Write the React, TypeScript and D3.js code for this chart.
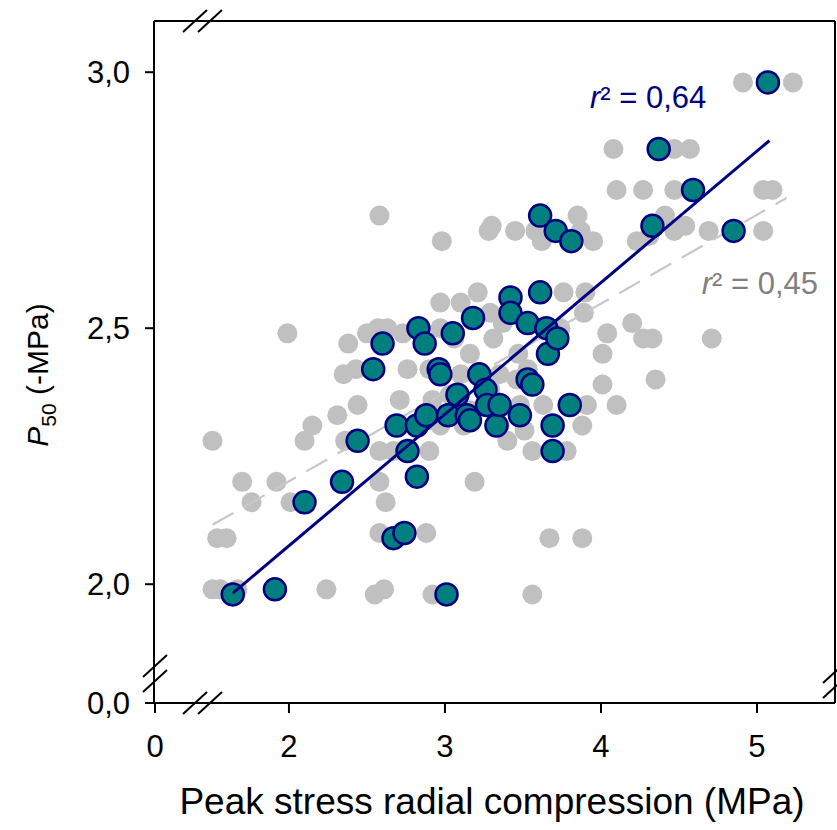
import React from "react";
import * as d3 from "d3";

// ---- data (x: peak stress radial compression, MPa; y: P50, -MPa) ----
const tealX = [1.64, 1.91, 3.01, 2.10, 2.34, 2.44, 2.54, 2.60, 2.67, 2.74, 2.69, 2.76, 2.82, 2.83, 2.87, 2.82, 2.88, 2.96, 2.97, 3.02, 3.05, 3.08, 3.14, 3.16, 3.18, 3.22, 3.26, 3.27, 3.33, 3.35, 3.42, 3.42, 3.48, 3.53, 3.53, 3.56, 3.61, 3.61, 3.65, 3.66, 3.69, 3.69, 3.71, 3.72, 3.80, 3.81, 4.33, 4.37, 4.59, 4.85, 5.07];
const tealY = [1.98, 1.99, 1.98, 2.16, 2.20, 2.28, 2.42, 2.47, 2.09, 2.10, 2.31, 2.26, 2.21, 2.50, 2.47, 2.31, 2.33, 2.42, 2.41, 2.33, 2.49, 2.37, 2.33, 2.32, 2.52, 2.41, 2.38, 2.35, 2.31, 2.35, 2.56, 2.53, 2.33, 2.51, 2.40, 2.39, 2.57, 2.72, 2.50, 2.45, 2.31, 2.26, 2.69, 2.48, 2.35, 2.67, 2.70, 2.85, 2.77, 2.69, 2.98];

const grayX = [1.51, 1.56, 1.67, 2.24, 2.55, 2.61, 2.92, 3.56, 1.54, 1.60, 2.58, 2.88, 3.67, 3.88, 3.19, 1.70, 1.76, 1.92, 2.01, 2.58, 2.62, 1.51, 2.10, 2.36, 2.58, 2.67, 2.90, 3.40, 3.56, 3.78, 2.15, 2.31, 2.44, 2.71, 2.92, 3.12, 3.51, 3.88, 3.63, 3.91, 4.10, 4.01, 4.35, 2.35, 2.43, 2.76, 2.90, 3.10, 3.35, 3.53, 2.38, 2.50, 2.57, 2.63, 2.73, 1.99, 2.58, 2.97, 3.10, 3.21, 3.29, 3.37, 3.31, 3.16, 3.47, 3.76, 3.90, 3.89, 3.74, 4.04, 4.20, 4.27, 4.33, 4.71, 4.01, 2.97, 2.98, 3.28, 3.30, 3.45, 3.58, 3.62, 3.85, 3.87, 3.95, 4.23, 4.31, 4.41, 4.47, 4.54, 4.69, 5.04, 5.04, 5.10, 4.10, 4.27, 4.47, 4.08, 4.47, 4.57, 4.91, 5.23, 3.03, 3.16, 3.29, 3.48, 2.97, 2.90, 3.35, 3.46, 3.06];
const grayY = [1.99, 1.99, 1.99, 1.99, 1.98, 1.99, 1.98, 1.98, 2.09, 2.09, 2.10, 2.10, 2.09, 2.09, 2.20, 2.20, 2.16, 2.20, 2.16, 2.20, 2.16, 2.28, 2.28, 2.28, 2.26, 2.26, 2.26, 2.28, 2.26, 2.26, 2.31, 2.33, 2.35, 2.36, 2.36, 2.31, 2.30, 2.31, 2.35, 2.35, 2.35, 2.39, 2.40, 2.41, 2.42, 2.42, 2.42, 2.41, 2.41, 2.42, 2.47, 2.49, 2.50, 2.50, 2.49, 2.49, 2.72, 2.55, 2.55, 2.57, 2.53, 2.51, 2.48, 2.45, 2.45, 2.57, 2.57, 2.53, 2.50, 2.49, 2.51, 2.48, 2.48, 2.48, 2.45, 2.50, 2.67, 2.69, 2.70, 2.69, 2.69, 2.67, 2.72, 2.69, 2.67, 2.67, 2.68, 2.72, 2.69, 2.70, 2.69, 2.69, 2.77, 2.77, 2.77, 2.77, 2.77, 2.85, 2.85, 2.85, 2.98, 2.98, 2.37, 2.34, 2.38, 2.35, 2.31, 2.32, 2.31, 2.40, 2.48];

// regression fits: [intercept, slope], [xStart, xEnd]
const tealFit = [1.561, 0.257];
const tealFitRange = [1.64, 5.08];
const grayFit = [1.854, 0.1735];
const grayFitRange = [1.51, 5.19];

const xTicks = [2, 3, 4, 5];
const yTicks = [2.0, 2.5, 3.0];
const xOriginLabel = "0";
const yOriginLabel = "0,0";
const tealR2 = "0,64";
const grayR2 = "0,45";

const W = 837;
const H = 830;
const left = 154, right = 835, top = 21, bottom = 703;

const FONT = "'Liberation Sans', Arial, Helvetica, sans-serif";
const TEAL = "#007f7f";
const NAVY = "#000080";
const GRAY = "#c0c0c0";

export default function App() {
  const x = d3.scaleLinear().domain([1.135, 5.5]).range([left, right]);
  const y = d3.scaleLinear().domain([1.768, 3.1]).range([bottom, top]);
  const fmt = (v: number) => d3.format(".1f")(v).replace(".", ",");

  const fitPath = (fit: number[], range: number[]) =>
    d3.line<number>()
      .x((v) => x(v))
      .y((v) => y(fit[0] + fit[1] * v))(range) || "";

  const slash = (cx: number, cy: number, key: string) => (
    <line key={key} x1={cx - 12} y1={cy + 11} x2={cx + 12} y2={cy - 11} stroke="#000" strokeWidth={2} />
  );

  return (
    <svg width={W} height={H} style={{ position: "absolute", left: 0, top: 0, background: "#fff" }} fontFamily={FONT}>
      <rect x={0} y={0} width={W} height={H} fill="#fff" />
      {/* gray points */}
      {grayX.map((v, i) => (
        <circle key={"g" + i} cx={x(v)} cy={y(grayY[i])} r={10} fill={GRAY} />
      ))}
      {/* gray dashed fit */}
      <path d={fitPath(grayFit, grayFitRange)} stroke="#c8c8c8" strokeWidth={2.2} strokeDasharray="24,12" fill="none" />
      {/* teal points */}
      {tealX.map((v, i) => (
        <circle key={"t" + i} cx={x(v)} cy={y(tealY[i])} r={11} fill={TEAL} stroke={NAVY} strokeWidth={2.5} />
      ))}
      {/* navy fit */}
      <path d={fitPath(tealFit, tealFitRange)} stroke={NAVY} strokeWidth={3} fill="none" />

      {/* frame */}
      <line x1={left} y1={top} x2={right} y2={top} stroke="#000" strokeWidth={2} />
      <line x1={right} y1={top} x2={right} y2={bottom} stroke="#000" strokeWidth={2} />
      <line x1={left} y1={top} x2={left} y2={bottom} stroke="#000" strokeWidth={2} />
      <line x1={left} y1={bottom} x2={right} y2={bottom} stroke="#000" strokeWidth={2} />

      {/* break marks */}
      {slash(195, 21, "t1")}
      {slash(210, 21, "t2")}
      {slash(195, 703, "b1")}
      {slash(210, 703, "b2")}
      {slash(155, 666, "l1")}
      {slash(155, 681, "l2")}
      {slash(835, 672, "r1")}
      {slash(835, 687, "r2")}

      {/* y ticks */}
      {yTicks.map((v) => (
        <g key={"yt" + v}>
          <line x1={left - 9} x2={left} y1={y(v)} y2={y(v)} stroke="#000" strokeWidth={2} />
          <text x={130} y={y(v)} dy="0.36em" textAnchor="end" fontSize={31}>{fmt(v)}</text>
        </g>
      ))}
      <line x1={left - 9} x2={left} y1={bottom} y2={bottom} stroke="#000" strokeWidth={2} />
      <text x={130} y={bottom} dy="0.36em" textAnchor="end" fontSize={31}>{yOriginLabel}</text>

      {/* x ticks */}
      {xTicks.map((v) => (
        <g key={"xt" + v}>
          <line x1={x(v)} x2={x(v)} y1={bottom} y2={bottom + 10} stroke="#000" strokeWidth={2} />
          <text x={x(v)} y={757} textAnchor="middle" fontSize={31}>{v}</text>
        </g>
      ))}
      <line x1={left + 1} x2={left + 1} y1={bottom} y2={bottom + 10} stroke="#000" strokeWidth={2} />
      <text x={left + 1} y={757} textAnchor="middle" fontSize={31}>{xOriginLabel}</text>

      {/* r2 labels */}
      <text x={590} y={108} fontSize={31} fill={NAVY}>
        <tspan fontStyle="italic">r</tspan>² = {tealR2}
      </text>
      <text x={818} y={294} fontSize={31} fill="#808080" textAnchor="end">
        <tspan fontStyle="italic">r</tspan>² = {grayR2}
      </text>

      {/* axis titles */}
      <text x={492} y={814} textAnchor="middle" fontSize={37}>Peak stress radial compression (MPa)</text>
      <text transform="translate(48,375) rotate(-90)" textAnchor="middle" fontSize={30}>
        <tspan fontStyle="italic">P</tspan>
        <tspan fontSize={21} dy={8}>50</tspan>
        <tspan dy={-8}> (-MPa)</tspan>
      </text>
    </svg>
  );
}
